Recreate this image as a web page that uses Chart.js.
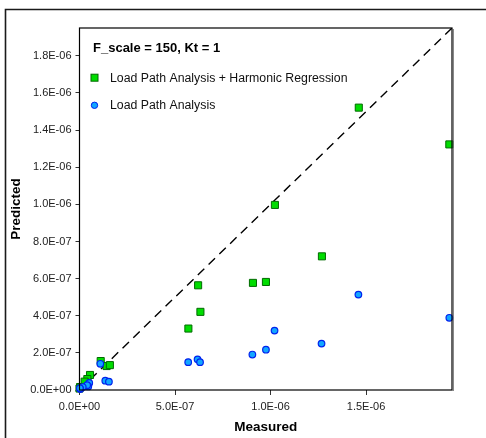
<!DOCTYPE html>
<html>
<head>
<meta charset="utf-8">
<script src="https://cdn.jsdelivr.net/npm/chart.js@4/dist/chart.umd.min.js"></script>
<style>
  html, body { margin: 0; padding: 0; background: #fff; }
  #wrap { width: 486px; height: 438px; position: relative; }
</style>
</head>
<body>
<div id="wrap"><canvas id="c" width="486" height="438"></canvas></div>
<script>
// ---- data ----
const chartTitle = "F_scale = 150, Kt = 1";
const seriesNames = ["Load Path Analysis + Harmonic Regression", "Load Path Analysis"];

const lpaHrMeasured  = [1.462e-6, 1.936e-6, 1.023e-6, 1.269e-6, 0.908e-6, 0.976e-6, 0.621e-6, 0.633e-6, 0.570e-6, 0.111e-6, 0.142e-6, 0.159e-6, 0.055e-6, 0.041e-6, 0.027e-6, 0.003e-6, 0.000e-6];
const lpaHrPredicted = [1.521e-6, 1.323e-6, 0.997e-6, 0.720e-6, 0.577e-6, 0.582e-6, 0.564e-6, 0.421e-6, 0.331e-6, 0.156e-6, 0.129e-6, 0.134e-6, 0.081e-6, 0.059e-6, 0.045e-6, 0.016e-6, 0.008e-6];

const lpaMeasured  = [1.460e-6, 1.936e-6, 1.021e-6, 1.267e-6, 0.976e-6, 0.905e-6, 0.618e-6, 0.631e-6, 0.569e-6, 0.109e-6, 0.135e-6, 0.154e-6, 0.051e-6, 0.046e-6, 0.040e-6, 0.017e-6, 0.004e-6, 0.002e-6];
const lpaPredicted = [0.514e-6, 0.389e-6, 0.320e-6, 0.250e-6, 0.217e-6, 0.191e-6, 0.165e-6, 0.150e-6, 0.150e-6, 0.141e-6, 0.050e-6, 0.045e-6, 0.038e-6, 0.019e-6, 0.026e-6, 0.016e-6, 0.005e-6, 0.010e-6];

const axisMin = 0;
const axisMax = 1.95e-6;
const xTickValues = [0, 5e-7, 1e-6, 1.5e-6];
const xTickLabels = ["0.0E+00", "5.0E-07", "1.0E-06", "1.5E-06"];
const yTickValues = [0, 2e-7, 4e-7, 6e-7, 8e-7, 1e-6, 1.2e-6, 1.4e-6, 1.6e-6, 1.8e-6];
const yTickLabels = ["0.0E+00", "2.0E-07", "4.0E-07", "6.0E-07", "8.0E-07", "1.0E-06", "1.2E-06", "1.4E-06", "1.6E-06", "1.8E-06"];

const toPoints = (xs, ys) => xs.map((x, i) => ({ x: x, y: ys[i] }));

const FONT = "'Liberation Sans', Arial, Helvetica, sans-serif";

const decor = {
  id: 'decor',
  afterDraw(chart) {
    const ctx = chart.ctx;
    const a = chart.chartArea;
    ctx.save();
    // outer frame (top + left)
    ctx.strokeStyle = '#1a1a1a';
    ctx.lineWidth = 1.6;
    ctx.beginPath();
    ctx.moveTo(5.5, 438);
    ctx.lineTo(5.5, 9.5);
    ctx.lineTo(486, 9.5);
    ctx.stroke();
    // plot area frame
    ctx.strokeStyle = '#000';
    ctx.lineWidth = 1.2;
    ctx.strokeRect(a.left, a.top, a.right - a.left, a.bottom - a.top);
    ctx.strokeStyle = '#555';
    ctx.lineWidth = 1;
    ctx.beginPath();
    ctx.moveTo(a.right + 1.2, a.top + 1);
    ctx.lineTo(a.right + 1.2, a.bottom + 1);
    ctx.stroke();
    // title
    ctx.fillStyle = '#000';
    ctx.font = 'bold 13px ' + FONT;
    ctx.textBaseline = 'middle';
    ctx.textAlign = 'left';
    ctx.fillText(chartTitle, 93, 48);
    // legend
    const rows = [77.7, 105.3];
    const sets = chart.data.datasets.filter(d => d.type === 'scatter');
    sets.forEach((d, i) => {
      const y = rows[i];
      const x = 94.5;
      ctx.fillStyle = d.backgroundColor;
      ctx.strokeStyle = d.borderColor;
      ctx.lineWidth = 1;
      if (d.pointStyle === 'rect') {
        ctx.fillRect(x - 3.5, y - 3.5, 7, 7);
        ctx.strokeRect(x - 3.5, y - 3.5, 7, 7);
      } else {
        ctx.beginPath();
        ctx.arc(x, y, 3.2, 0, Math.PI * 2);
        ctx.fill();
        ctx.stroke();
      }
      ctx.fillStyle = '#111';
      ctx.font = '12.3px ' + FONT;
      ctx.fillText(d.label, 110, y + 0.5);
    });
    ctx.restore();
  }
};

new Chart(document.getElementById('c'), {
  data: {
    datasets: [
      {
        type: 'scatter',
        label: seriesNames[0],
        data: toPoints(lpaHrMeasured, lpaHrPredicted),
        pointStyle: 'rect',
        pointRadius: 5,
        backgroundColor: '#00dd00',
        borderColor: '#006a00',
        borderWidth: 1,
        order: 1,
        clip: false
      },
      {
        type: 'scatter',
        label: seriesNames[1],
        data: toPoints(lpaMeasured, lpaPredicted),
        pointStyle: 'circle',
        pointRadius: 3.3,
        backgroundColor: '#12a6ff',
        borderColor: '#0022ee',
        borderWidth: 1.2,
        order: 0,
        clip: false
      },
      {
        type: 'line',
        label: 'diag',
        data: [{ x: axisMin, y: axisMin }, { x: axisMax, y: axisMax }],
        borderColor: '#000',
        borderWidth: 1.4,
        borderDash: [9, 6],
        pointRadius: 0,
        fill: false,
        order: 2
      }
    ]
  },
  options: {
    responsive: false,
    devicePixelRatio: 1,
    animation: false,
    layout: { padding: { left: 0, right: 34, top: 28, bottom: 0 } },
    plugins: { legend: { display: false }, tooltip: { enabled: false } },
    scales: {
      x: {
        type: 'linear',
        min: axisMin,
        max: axisMax,
        afterBuildTicks: s => { s.ticks = xTickValues.map(v => ({ value: v })); },
        afterFit: s => { s.height = 48; },
        ticks: {
          callback: (v) => { const i = xTickValues.findIndex(t => Math.abs(t - v) < 1e-12); return i >= 0 ? xTickLabels[i] : ''; },
          font: { family: FONT, size: 11 },
          color: '#222',
          padding: 5,
          maxRotation: 0,
          autoSkip: false
        },
        grid: { drawOnChartArea: false, tickLength: 5, color: '#333', lineWidth: 1 },
        border: { display: false },
        title: {
          display: true,
          text: 'Measured',
          font: { family: FONT, size: 13.5, weight: 'bold' },
          color: '#000',
          padding: { top: 0, bottom: 2.5 }
        }
      },
      y: {
        type: 'linear',
        min: axisMin,
        max: axisMax,
        afterBuildTicks: s => { s.ticks = yTickValues.map(v => ({ value: v })); },
        afterFit: s => { s.width = 79.5; },
        ticks: {
          callback: (v) => { const i = yTickValues.findIndex(t => Math.abs(t - v) < 1e-12); return i >= 0 ? yTickLabels[i] : ''; },
          font: { family: FONT, size: 11 },
          color: '#222',
          padding: 4,
          autoSkip: false
        },
        grid: { drawOnChartArea: false, tickLength: 4, color: '#333', lineWidth: 1 },
        border: { display: false },
        title: {
          display: true,
          text: 'Predicted',
          font: { family: FONT, size: 13.5, weight: 'bold' },
          color: '#000',
          padding: { top: 8.5, bottom: 0 }
        }
      }
    }
  },
  plugins: [decor]
});
</script>
</body>
</html>
